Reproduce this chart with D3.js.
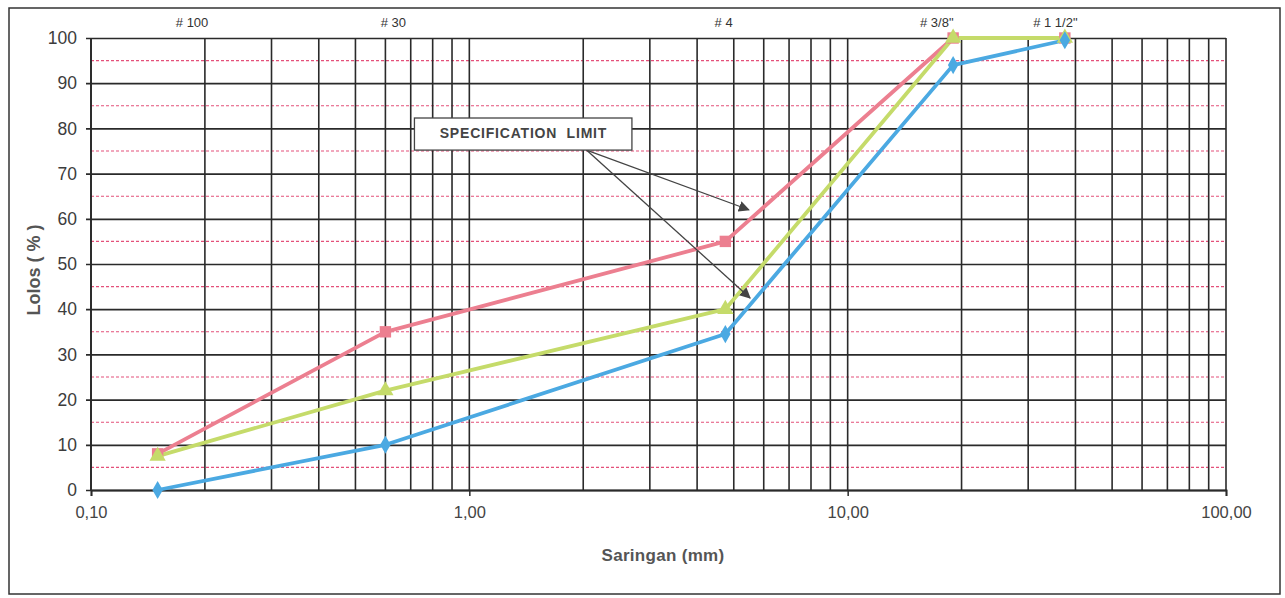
<!DOCTYPE html>
<html>
<head>
<meta charset="utf-8">
<script src="https://cdn.jsdelivr.net/npm/d3@7/dist/d3.min.js"></script>
<style>
  html, body { margin: 0; padding: 0; background: #fff; }
  svg { display: block; font-family: "Liberation Sans", Arial, sans-serif; }
</style>
</head>
<body>
<svg id="chart" width="1285" height="598"></svg>
<script>
// Sieve openings (mm) and passing percentages
const sieveSizes = [0.15, 0.6, 4.75, 19, 37.5];
const upperLimit = [8, 35, 55, 100, 100];
const gradation  = [7.5, 22, 40, 100, 100];
const lowerLimit = [0, 10, 34.5, 94, 99.5];

// Sieve names printed above the grid, with the size (mm) they sit over
const sieveNames = ["# 100", "# 30", "# 4", "# 3/8\"", "# 1 1/2\""];
const sieveNameAt = [0.185, 0.63, 4.7, 17.2, 35.4];

const xTickValues = [0.1, 1, 10, 100];
const xTickLabels = ["0,10", "1,00", "10,00", "100,00"];
const yTickValues = [0, 10, 20, 30, 40, 50, 60, 70, 80, 90, 100];

const svg = d3.select("#chart");
const plotL = 91, plotR = 1226, plotT = 38, plotB = 490;

const x = d3.scaleLog().domain([0.1, 100]).range([plotL, plotR]);
const y = d3.scaleLinear().domain([0, 100]).range([plotB, plotT]);

// outer frame
svg.append("rect")
  .attr("x", 9).attr("y", 8).attr("width", 1271).attr("height", 586)
  .attr("fill", "none").attr("stroke", "#333").attr("stroke-width", 1.5);

// minor log grid lines
const minorX = [];
[0.1, 1, 10].forEach(d => { for (let k = 1; k <= 9; k++) minorX.push(d * k); });
minorX.push(100);

const grid = svg.append("g");
// pink dashed half-step lines
grid.selectAll("line.half")
  .data(d3.range(5, 100, 10))
  .join("line")
  .attr("class", "half")
  .attr("x1", plotL).attr("x2", plotR)
  .attr("y1", d => y(d)).attr("y2", d => y(d))
  .attr("stroke", "#e4507a").attr("stroke-width", 1.1)
  .attr("stroke-dasharray", "3,2");

grid.selectAll("line.v")
  .data(minorX)
  .join("line")
  .attr("class", "v")
  .attr("x1", d => x(d)).attr("x2", d => x(d))
  .attr("y1", y(100)).attr("y2", y(0))
  .attr("stroke", "#2a2a2a").attr("stroke-width", 1.6);

// bottom axis with ticks
const xAxis = d3.axisBottom(x)
  .tickValues(xTickValues)
  .tickFormat((d, i) => xTickLabels[i])
  .tickSize(6).tickPadding(10);
const gx = svg.append("g").attr("transform", `translate(0,${plotB})`).call(xAxis);
gx.select(".domain").attr("stroke", "#2a2a2a").attr("stroke-width", 1.8);
gx.selectAll(".tick line").attr("stroke", "#2a2a2a").attr("stroke-width", 1.5);
gx.selectAll(".tick text").attr("font-size", 16.5).attr("fill", "#444")
  .attr("font-family", "Liberation Sans, Arial, sans-serif");

// left axis: major horizontal lines with ticks extending out
const yAxis = d3.axisLeft(y)
  .tickValues(yTickValues)
  .tickSize(-(plotR - plotL)).tickPadding(14);
const gy = svg.append("g").attr("transform", `translate(${plotL},0)`).call(yAxis);
gy.select(".domain").remove();
gy.selectAll(".tick line")
  .attr("x1", -5)
  .attr("stroke", "#2a2a2a").attr("stroke-width", 1.7);
gy.selectAll(".tick text").attr("font-size", 17.5).attr("fill", "#3c3c3c")
  .attr("font-family", "Liberation Sans, Arial, sans-serif");

// left edge of plot
svg.append("line")
  .attr("x1", plotL).attr("x2", plotL).attr("y1", y(100)).attr("y2", y(0))
  .attr("stroke", "#2a2a2a").attr("stroke-width", 1.8);

// sieve names
svg.append("g").selectAll("text")
  .data(sieveNames)
  .join("text")
  .attr("x", (d, i) => x(sieveNameAt[i]))
  .attr("y", 27)
  .attr("text-anchor", "middle")
  .attr("font-size", 13).attr("fill", "#333")
  .text(d => d);

// axis titles
svg.append("text")
  .attr("transform", `translate(40,${(plotT + plotB) / 2 + 6}) rotate(-90)`)
  .attr("text-anchor", "middle")
  .attr("font-size", 18).attr("font-weight", "bold").attr("fill", "#555")
  .text("Lolos ( % )");
svg.append("text")
  .attr("x", x(3.25)).attr("y", 561)
  .attr("text-anchor", "middle")
  .attr("font-size", 17).attr("font-weight", "bold").attr("fill", "#555")
  .attr("letter-spacing", 0.3)
  .text("Saringan (mm)");

// series
const series = [
  { values: upperLimit, color: "#ec7f90", shape: d3.symbolSquare, size: 130 },
  { values: gradation,  color: "#c5db6a", shape: d3.symbolTriangle, size: 115 },
  { values: lowerLimit, color: "#4ba9e2", shape: d3.symbolDiamond, size: 95 }
];
const line = d3.line().x(d => x(d[0])).y(d => y(d[1]));

series.forEach(s => {
  const pts = sieveSizes.map((v, i) => [v, s.values[i]]);
  svg.append("path")
    .attr("d", line(pts))
    .attr("fill", "none").attr("stroke", s.color).attr("stroke-width", 3.8)
    .attr("stroke-linejoin", "round");
});
series.forEach(s => {
  const pts = sieveSizes.map((v, i) => [v, s.values[i]]);
  svg.append("g").selectAll("path")
    .data(pts)
    .join("path")
    .attr("transform", d => `translate(${x(d[0])},${y(d[1])})`)
    .attr("d", d3.symbol().type(s.shape).size(s.size))
    .attr("fill", s.color);
});

// specification limit callout
const defs = svg.append("defs");
defs.append("marker")
  .attr("id", "arrow").attr("viewBox", "0 0 10 10")
  .attr("refX", 9).attr("refY", 5)
  .attr("markerWidth", 11).attr("markerHeight", 11)
  .attr("markerUnits", "userSpaceOnUse")
  .attr("orient", "auto")
  .append("path").attr("d", "M0,0 L10,5 L0,10 Z").attr("fill", "#444");

const callFrom = [2.04, 75.2];
const callTo = [[5.48, 62], [5.52, 42.5]];
svg.append("g").selectAll("line")
  .data(callTo)
  .join("line")
  .attr("x1", x(callFrom[0])).attr("y1", y(callFrom[1]))
  .attr("x2", d => x(d[0])).attr("y2", d => y(d[1]))
  .attr("stroke", "#444").attr("stroke-width", 1.3)
  .attr("marker-end", "url(#arrow)");

svg.append("rect")
  .attr("x", x(0.716)).attr("y", y(82.3))
  .attr("width", x(2.69) - x(0.716)).attr("height", y(75.2) - y(82.3))
  .attr("fill", "#fff").attr("stroke", "#444").attr("stroke-width", 1.3);
svg.append("text")
  .attr("x", x(1.39)).attr("y", y(79) + 5)
  .attr("text-anchor", "middle")
  .attr("font-size", 14).attr("font-weight", "bold").attr("fill", "#444")
  .attr("letter-spacing", 0.8)
  .attr("xml:space", "preserve")
  .text("SPECIFICATION  LIMIT");
</script>
</body>
</html>
